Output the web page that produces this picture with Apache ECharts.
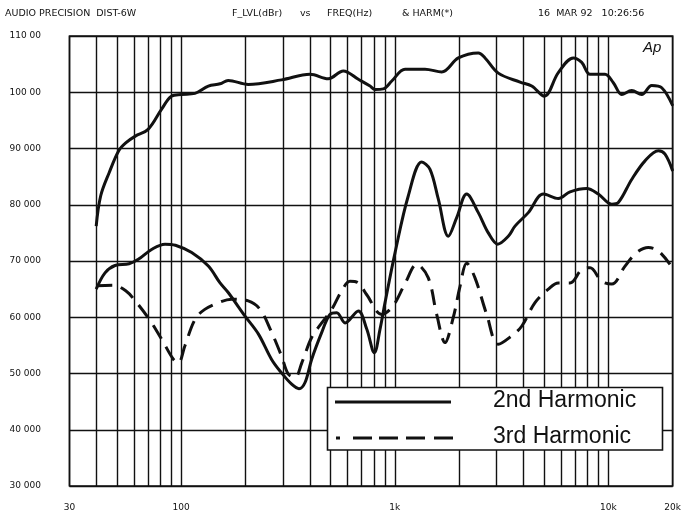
<!DOCTYPE html>
<html><head><meta charset="utf-8">
<script src="https://cdn.jsdelivr.net/npm/echarts@6/dist/echarts.min.js"></script>
<style>html,body{margin:0;padding:0;background:#fff}#c{width:689px;height:517px}</style>
</head><body><div id="c"></div>
<script>
// Frequency response (F_LVL, dBr) vs frequency (Hz)
const freqResponse = [[40,76.2],[42,81.6],[46,85.7],[51,89.6],[55,91.0],[61,92.2],[70,93.4],[81,97.0],[90,99.3],[100,99.6],[116,99.8],[134,101.1],[152,101.5],[166,102.1],[206,101.4],[295,102.2],[401,103.2],[488,102.4],[574,103.8],[675,102.3],[766,101.1],[808,100.5],[884,100.6],[968,102.0],[1117,104.1],[1385,104.1],[1658,103.6],[1984,106.1],[2460,107.0],[2645,106.1],[3052,103.4],[3859,101.8],[4376,101.1],[5013,99.3],[5829,103.5],[6851,106.1],[7500,105.3],[8203,103.2],[9641,103.2],[10547,101.7],[11545,99.6],[12856,100.3],[14315,99.6],[15950,101.2],[17768,100.8],[20000,97.6]];
// 2nd harmonic
const harmonic2 = [[40,65.0],[44,67.9],[49,69.2],[57,69.5],[63,70.3],[73,72.1],[84,73.0],[94,72.8],[112,71.5],[134,69.1],[152,66.1],[166,64.4],[199,60.2],[230,57.0],[265,52.5],[295,50.1],[329,48.1],[356,47.3],[380,48.4],[408,52.5],[455,57.3],[497,60.5],[535,60.8],[585,59.0],[675,61.1],[739,57.9],[802,53.7],[853,57.9],[900,62.6],[1003,71.5],[1157,81.6],[1337,87.6],[1462,86.3],[1599,81.0],[1781,74.4],[1949,77.7],[2171,81.9],[2460,78.6],[2740,75.0],[3033,73.0],[3399,74.4],[3654,76.2],[4218,78.6],[4959,81.9],[5829,81.1],[6612,82.3],[7917,82.9],[8971,81.9],[10366,80.1],[11130,80.4],[12856,84.5],[14838,87.8],[17130,89.6],[18411,89.0],[20000,86.0]];
// 3rd harmonic
const harmonic3 = [[40,65.6],[48,65.7],[55,64.7],[61,62.9],[71,59.6],[81,56.1],[92,52.5],[97,51.9],[104,54.9],[116,59.6],[129,61.4],[152,62.7],[172,63.2],[206,62.9],[234,61.4],[261,57.9],[295,53.1],[317,49.9],[341,49.3],[367,51.9],[408,56.4],[455,59.0],[507,61.4],[564,64.7],[617,66.4],[675,66.1],[739,64.0],[868,60.5],[981,62.0],[1117,66.0],[1267,69.4],[1435,67.0],[1571,60.5],[1718,55.5],[1879,60.0],[2020,65.5],[2171,69.6],[2374,67.0],[2693,60.5],[3052,55.2],[3526,56.7],[3927,58.4],[4534,62.6],[5233,65.0],[5829,66.1],[6612,66.1],[7500,68.5],[8203,68.8],[9303,66.4],[10366,65.9],[11965,69.1],[13565,71.5],[15372,72.4],[17130,71.8],[19429,69.4]];

const xTickLabels = {30:'30',100:'100',1000:'1k',10000:'10k',20000:'20k'};
const yTickLabels = {30:'30 000',40:'40 000',50:'50 000',60:'60 000',70:'70 000',80:'80 000',90:'90 000',100:'100 00',110:'110 00'};
const minorGridFreqs = [40,50,60,70,80,90,200,300,400,500,600,700,800,900,2000,3000,4000,5000,6000,7000,8000,9000];
const legendNames = ['2nd Harmonic','3rd Harmonic'];
const headerTexts = [
  ['AUDIO PRECISION  DIST-6W',5],
  ['F_LVL(dBr)',232],
  ['vs',300],
  ['FREQ(Hz)',327],
  ['& HARM(*)',402],
  ['16  MAR 92   10:26:56',538]
];

const chart = echarts.init(document.getElementById('c'), null, {renderer:'canvas'});
const GRID = {left:69.5, right:16.3, top:36, bottom:31};
const lblFont = 'DejaVu Sans';
const dash = [16,9];

const graphics = headerTexts.map(([t,x]) => ({
  type:'text', left:x, top:9, z:100,
  style:{text:t, font:'9.5px "DejaVu Sans"', fill:'#111'}
}));
graphics.push({type:'text', left:643, top:40, z:100,
  style:{text:'Ap', font:'italic 15px "Liberation Sans"', fill:'#111'}});
// legend box
graphics.push({type:'rect', z:100, shape:{x:327.5, y:387.5, width:335, height:62.5},
  style:{fill:'#fff', stroke:'#111', lineWidth:1.6}});
graphics.push({type:'line', z:101, shape:{x1:335, y1:402, x2:451, y2:402},
  style:{stroke:'#111', lineWidth:3.2}});
graphics.push({type:'line', z:101, shape:{x1:336, y1:438, x2:453, y2:438},
  style:{stroke:'#111', lineWidth:3.2, lineDash:[4,13,19,7,19,8,19,9,19]}});
graphics.push({type:'text', z:101, left:493, top:389,
  style:{text:legendNames[0], font:'23px "Liberation Sans"', fill:'#111'}});
graphics.push({type:'text', z:101, left:493, top:425,
  style:{text:legendNames[1], font:'23px "Liberation Sans"', fill:'#111'}});

const option = {
  animation:false,
  backgroundColor:'#fff',
  grid:{...GRID, show:true, borderColor:'#111', borderWidth:1.6, backgroundColor:'transparent'},
  xAxis:{
    type:'log', logBase:10, min:30, max:20000,
    axisLine:{show:false}, axisTick:{show:false},
    splitLine:{show:true, lineStyle:{color:'#111', width:1.4}},
    axisLabel:{
      margin:17, color:'#111', fontFamily:lblFont, fontSize:9,
      showMinLabel:true, showMaxLabel:true,
      formatter: v => xTickLabels[Math.round(v)] !== undefined ? xTickLabels[Math.round(v)] : ''
    }
  },
  yAxis:{
    type:'value', min:30, max:110, interval:10,
    axisLine:{show:false}, axisTick:{show:false},
    splitLine:{show:true, lineStyle:{color:'#111', width:1.4}},
    axisLabel:{
      align:'left', margin:60, color:'#111', fontFamily:lblFont, fontSize:9,
      formatter: v => yTickLabels[v]
    }
  },
  series:[
    {
      name:'F_LVL', type:'line', data:freqResponse, smooth:0.35, symbol:'none',
      lineStyle:{color:'#111', width:3}, z:5,
      markLine:{
        silent:true, symbol:['none','none'], label:{show:false},
        lineStyle:{color:'#111', width:1.4, type:'solid'},
        data: minorGridFreqs.map(f => ({xAxis:f}))
      }
    },
    {name:legendNames[0], type:'line', data:harmonic2, smooth:0.35, symbol:'none',
      lineStyle:{color:'#111', width:3}, z:5},
    {name:legendNames[1], type:'line', data:harmonic3, smooth:0.35, symbol:'none',
      lineStyle:{color:'#111', width:3, type:dash}, z:5}
  ],
  graphic: graphics
};
chart.setOption(option);
</script>
</body></html>
